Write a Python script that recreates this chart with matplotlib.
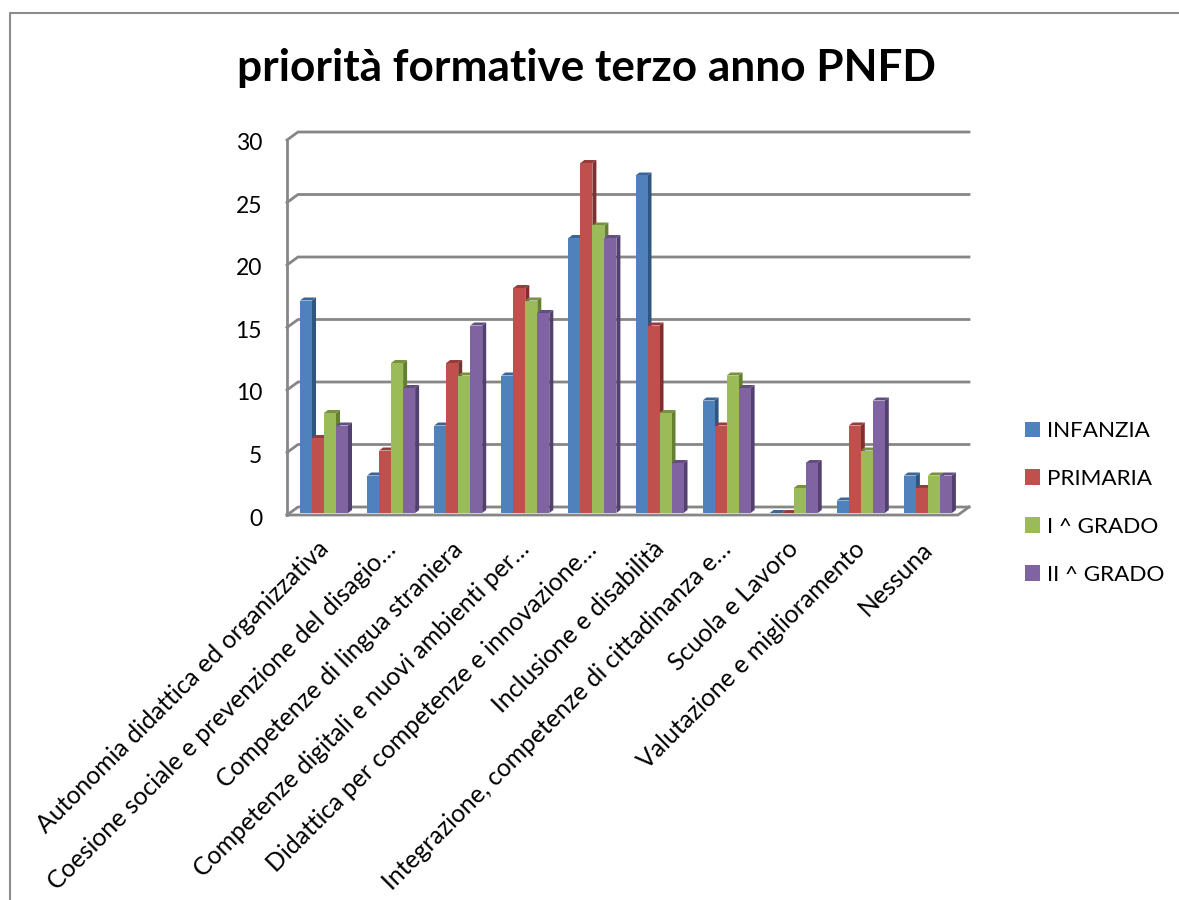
import matplotlib
matplotlib.use("Agg")
import matplotlib.pyplot as plt
from matplotlib.patches import Polygon, Patch
from matplotlib.lines import Line2D
from matplotlib.transforms import ScaledTranslation

plt.rcParams['font.family'] = ['Lato', 'DejaVu Sans']

categories = ["Autonomia didattica ed organizzativa",
              "Coesione sociale e prevenzione del disagio…",
              "Competenze di lingua straniera",
              "Competenze digitali e nuovi ambienti per…",
              "Didattica per competenze e innovazione…",
              "Inclusione e disabilità",
              "Integrazione, competenze di cittadinanza e…",
              "Scuola e Lavoro",
              "Valutazione e miglioramento",
              "Nessuna"]
infanzia = [17, 3, 7, 11, 22, 27, 9, 0, 1, 3]
primaria = [6, 5, 12, 18, 28, 15, 7, 0, 7, 2]
primo = [8, 12, 11, 17, 23, 8, 11, 2, 5, 3]
secondo = [7, 10, 15, 16, 22, 4, 10, 4, 9, 3]
series_names = ["INFANZIA", "PRIMARIA", "I ^ GRADO", "II ^ GRADO"]
series = [infanzia, primaria, primo, secondo]
front = ['#4F81BD', '#C0504D', '#9BBB59', '#8064A2']
side = ['#2F5680', '#7F2F2D', '#64802F', '#52406E']
top = ['#3A6595', '#973C3A', '#77913F', '#634E80']
title = "priorità formative terzo anno PNFD"

W, H = 1179, 900
fig = plt.figure(figsize=(W / 100, H / 100), dpi=100)
L, R, T, B = 287, 958, 140, 515
ax = fig.add_axes([L / W, 1 - B / H, (R - L) / W, (B - T) / H])
ax.set_xlim(0, 10)
ax.set_ylim(0, 30)
for s in ax.spines.values():
    s.set_visible(False)
ax.set_facecolor('none')

# chart frame (cropped at the right and bottom)
GREY = '#868686'
fig.add_artist(Line2D([10 / W, 10 / W, 1], [0, 1 - 13 / H, 1 - 13 / H], color='#8c8c8c', lw=1.5))

# depth of the wall and the bars, in data units
wx, wy = 11 / 67.1, 8 / 12.5
bx, by = 4 / 67.1, 3 / 12.5
base = 2 / 12.5  # bars stand slightly behind the front edge of the floor

# walls and gridlines
for v in range(0, 35, 5):
    ax.plot([0, wx, 10 + wx], [v, v + wy, v + wy], color=GREY, lw=2.0, clip_on=False, zorder=1,
            solid_joinstyle='miter')
ax.plot([0, 0], [0, 30], color=GREY, lw=2.0, clip_on=False, zorder=1)
ax.plot([0, 10, 10 + wx], [0, 0, wy], color=GREY, lw=2.0, clip_on=False, zorder=1)

# bars
bw = 12 / 67.1
start = 13 / 67.1
for c in range(len(categories)):
    for k, vals in enumerate(series):
        x0 = c + start + k * bw
        x1 = x0 + bw
        v = vals[c] + base
        z = 2 + k
        ax.add_patch(Polygon([(x1, base), (x1 + bx, base + by), (x1 + bx, v + by), (x1, v)],
                             fc=side[k], ec='none', zorder=z, clip_on=False))
        ax.add_patch(Polygon([(x0, v), (x0 + bx, v + by), (x1 + bx, v + by), (x1, v)],
                             fc=top[k], ec='none', zorder=z, clip_on=False))
        ax.bar(x0, vals[c], bottom=base, width=bw, align='edge', color=front[k], zorder=z, clip_on=False)

ax.set_yticks(range(0, 35, 5))
ax.set_xticks([i + 0.5 for i in range(len(categories))])
ax.set_xticklabels(categories, rotation=45, ha='right', va='top', rotation_mode='anchor')
ax.tick_params(axis='y', length=0, labelsize=16.5, colors='black', pad=18)
ax.tick_params(axis='x', length=0, labelsize=17.8, colors='black', pad=16)
shift_y = ScaledTranslation(0, -2 / 100, fig.dpi_scale_trans)
shift_x = ScaledTranslation(-4 / 100, 0, fig.dpi_scale_trans)
for lab in ax.get_yticklabels():
    lab.set_transform(lab.get_transform() + shift_y)
for lab in ax.get_xticklabels():
    lab.set_transform(lab.get_transform() + shift_x)

fig.text(586 / W, 1 - 68 / H, title, ha='center', va='center', fontsize=31.8, fontweight='bold', color='black')

handles = [Patch(fc=c, ec='none') for c in front]
fig.legend(handles, series_names, loc='center left', bbox_to_anchor=(1025 / W, 1 - 503 / H),
           frameon=False, fontsize=16.2, handlelength=0.68, handleheight=0.68,
           handletextpad=0.3, labelspacing=1.24, borderpad=0, borderaxespad=0)

fig.savefig('out.png', dpi=100)
